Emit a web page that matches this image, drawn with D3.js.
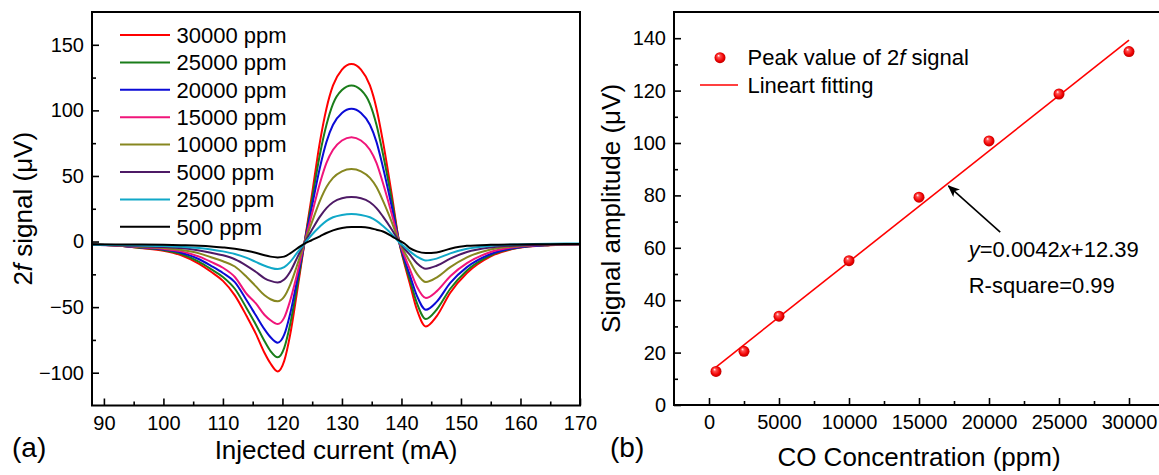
<!DOCTYPE html>
<html>
<head>
<meta charset="utf-8">
<script src="https://cdn.jsdelivr.net/npm/d3@7"></script>
<style>
  html, body { margin: 0; padding: 0; background: #fff; }
  svg { display: block; font-family: "Liberation Sans", Arial, sans-serif; }
</style>
</head>
<body>
<svg id="chart" width="1159" height="475"></svg>
<script>
// ---------------- DATA ----------------
// Panel (a): 2f signal vs injected current
const currentX = [88, 92, 96, 100, 103, 106, 108, 110, 112, 114, 115.5, 117, 118, 119.2, 120.3, 121.3, 122.4, 123.7,
  124.9, 126.3, 127.4, 128.5, 130, 131.6, 133.2, 134.7, 135.8, 136.9, 138.4,
  139.6, 140.5, 141.4, 142.6, 144.1, 145.9, 148.2, 151, 155, 159.5, 165, 170];
const seriesNames = ["30000 ppm", "25000 ppm", "20000 ppm", "15000 ppm", "10000 ppm", "5000 ppm", "2500 ppm", "500 ppm"];
const seriesColors = ["#ff0000", "#1a7d1a", "#0b0bd6", "#f0157a", "#878720", "#4e1a66", "#10a8c8", "#000000"];
const sig30000 = [-2.5, -3, -5, -7, -10.5, -17, -23, -30, -41, -57, -70, -85, -93, -99, -91, -71, -40, -1,
  34, 76, 101.5, 119, 131, 135.3, 131, 119, 101.5, 76, 35,
  0, -17, -32, -52, -64.7, -57, -39, -24, -11.3, -5, -2.8, -2];
const sig25000 = [-2.5, -3, -4.7, -6.5, -9.5, -15.5, -21, -27, -36, -51, -63, -76, -83.5, -88.3, -81, -63, -36, -1,
  30, 66.5, 89, 105, 115.5, 119, 115.5, 105, 89, 66.5, 31,
  0, -15.5, -29, -47, -59.1, -52, -36, -22, -10.5, -4.8, -2.7, -2];
const sig20000 = [-2.5, -3, -4.4, -6, -8.5, -13.5, -18.5, -24, -31, -45, -56, -67, -73, -77.1, -71, -55, -31, -1,
  25.5, 56.5, 76, 89, 98, 101.2, 98, 89, 76, 56.5, 26,
  0, -13.5, -25.5, -41.5, -52, -46, -31.5, -19.5, -9.5, -4.5, -2.6, -2];
const sig15000 = [-2.5, -3, -4.2, -5.5, -7.5, -11.5, -15.5, -20, -27, -40, -47, -56, -60, -62.9, -58, -45, -26, -1,
  20, 44.5, 60, 70, 77, 79.6, 77, 70, 60, 44.5, 20.5,
  0, -11, -21, -34.5, -43.1, -38, -26.5, -16.5, -8, -4, -2.5, -2];
const sig10000 = [-2.5, -2.9, -3.9, -5, -6.5, -9, -12, -15, -19, -27, -34, -41, -44, -45.6, -42, -33, -19, -1,
  14, 31, 41.5, 48.5, 53.5, 55.3, 53.5, 48.5, 41.5, 31, 14.5,
  0, -8, -15, -24.5, -30.9, -27.5, -19.5, -12, -6, -3.5, -2.3, -2];
const sig5000 = [-2.5, -2.8, -3.5, -4.2, -5, -6.8, -8.5, -10.5, -13.5, -18.5, -23, -28, -30, -31.2, -29, -23, -13, -1,
  8.5, 19, 25.5, 30, 33, 33.9, 33, 30, 25.5, 19, 9,
  0, -5.5, -10, -16.5, -20.7, -18.5, -13, -8, -4.5, -3, -2.2, -2];
const sig2500 = [-2.4, -2.6, -3, -3.4, -4, -5, -6, -7.5, -9.5, -12.5, -15.5, -18.5, -20, -21, -19.5, -15.5, -9, -1.5,
  5, 11.5, 15.8, 18.5, 20.3, 21, 20.3, 18.5, 15.8, 11.8, 5.5,
  -0.5, -4, -7.5, -11.5, -14.4, -13, -9, -5.5, -3.3, -2.2, -1.6, -1.5];
const sig500 = [-2, -2.2, -2.3, -2.5, -2.8, -3.2, -3.7, -4.5, -5.5, -7, -8.5, -10.5, -11.5, -12.1, -11.5, -9, -5.5, -1.5,
  1, 4, 6.5, 8.5, 10.3, 11, 11, 10.3, 9, 7.7, 4,
  0.8, -1.5, -5, -7.5, -8.8, -8.3, -5.5, -3.3, -2.5, -2.2, -2, -1.8];
const seriesValues = [sig30000, sig25000, sig20000, sig15000, sig10000, sig5000, sig2500, sig500];
const xTicksA = [90, 100, 110, 120, 130, 140, 150, 160, 170];
const yTicksA = [-100, -50, 0, 50, 100, 150];

// Panel (b): peak amplitude vs CO concentration
const concentration = [500, 2500, 5000, 10000, 15000, 20000, 25000, 30000];
const peakAmplitude = [12.8, 20.5, 33.9, 55.1, 79.3, 100.8, 118.7, 134.9];
const fitX = [500, 30000];
const fitY = [14.5, 139.3];
const xTicksB = [0, 5000, 10000, 15000, 20000, 25000, 30000];
const yTicksB = [0, 20, 40, 60, 80, 100, 120, 140];
const arrowFrom = [20800, 66];
const arrowTo = [17100, 83.6];
const eqPos = [18550, 56.5];
const r2Pos = [18550, 42.8];

// ---------------- DRAW ----------------
const svg = d3.select("#chart");
const defs = svg.append("defs");
const grad = defs.append("radialGradient").attr("id", "ball").attr("cx", "50%").attr("cy", "50%").attr("r", "55%").attr("fx", "35%").attr("fy", "30%");
grad.append("stop").attr("offset", "0%").attr("stop-color", "#ffffff");
grad.append("stop").attr("offset", "25%").attr("stop-color", "#ff5050");
grad.append("stop").attr("offset", "70%").attr("stop-color", "#ee0000");
grad.append("stop").attr("offset", "100%").attr("stop-color", "#b00000");
defs.append("marker").attr("id", "arrowhead").attr("viewBox", "0 0 12 10").attr("refX", 11).attr("refY", 5)
  .attr("markerWidth", 12).attr("markerHeight", 10).attr("markerUnits", "userSpaceOnUse").attr("orient", "auto")
  .append("path").attr("d", "M0,0 L12,5 L0,10 L3,5 Z").attr("fill", "#000");

const TICK = 20, LEG = 22, TITLE = 26, LABEL = 28;

function styleAxis(g) {
  g.select(".domain").remove();
  g.selectAll(".tick line").attr("stroke", "#000").attr("stroke-width", 1.6);
  g.selectAll(".tick text").attr("font-size", TICK).attr("fill", "#000").attr("font-family", "Liberation Sans, Arial, sans-serif");
}

// ---- Panel A ----
const A = { left: 92, right: 580, top: 12, bottom: 405.5 };
const xA = d3.scaleLinear().domain([88, 170]).range([A.left, A.right]);
const yA = d3.scaleLinear().domain([-125, 175]).range([A.bottom, A.top]);

defs.append("clipPath").attr("id", "clipA").append("rect")
  .attr("x", A.left).attr("y", A.top).attr("width", A.right - A.left).attr("height", A.bottom - A.top);

const gA = svg.append("g");
gA.append("g").attr("transform", `translate(0,${A.bottom})`)
  .call(d3.axisBottom(xA).tickValues(xTicksA).tickSize(-7).tickPadding(10).tickFormat(d3.format("d"))).call(styleAxis);
gA.append("g").attr("transform", `translate(0,${A.bottom})`)
  .call(d3.axisBottom(xA).tickValues(d3.range(95, 170, 10)).tickSize(-4).tickFormat("")).call(styleAxis);
gA.append("g").attr("transform", `translate(${A.left},0)`)
  .call(d3.axisLeft(yA).tickValues(yTicksA).tickSize(-7).tickPadding(8).tickFormat(d3.format("d"))).call(styleAxis);
gA.append("g").attr("transform", `translate(${A.left},0)`)
  .call(d3.axisLeft(yA).tickValues([-75, -25, 25, 75, 125]).tickSize(-4).tickFormat("")).call(styleAxis);

const lineA = d3.line().x((d, i) => xA(currentX[i])).y(d => yA(d)).curve(d3.curveMonotoneX);
const curves = gA.append("g").attr("clip-path", "url(#clipA)");
seriesValues.forEach((vals, k) => {
  curves.append("path").attr("d", lineA(vals)).attr("fill", "none")
    .attr("stroke", seriesColors[k]).attr("stroke-width", 2);
});

gA.append("rect").attr("x", A.left).attr("y", A.top).attr("width", A.right - A.left).attr("height", A.bottom - A.top)
  .attr("fill", "none").attr("stroke", "#000").attr("stroke-width", 2);

// legend A
const legA = gA.append("g");
seriesNames.forEach((name, k) => {
  const cy = 35 + k * 27.4;
  legA.append("line").attr("x1", 120).attr("x2", 170).attr("y1", cy).attr("y2", cy)
    .attr("stroke", seriesColors[k]).attr("stroke-width", 2);
  legA.append("text").attr("x", 176.5).attr("y", cy).attr("dy", "0.35em").attr("font-size", LEG).text(name);
});

// titles A
gA.append("text").attr("x", (A.left + A.right) / 2).attr("y", 459).attr("text-anchor", "middle")
  .attr("font-size", TITLE).text("Injected current (mA)");
const tA = gA.append("text").attr("transform", `translate(32,${(A.top + A.bottom) / 2}) rotate(-90)`)
  .attr("text-anchor", "middle").attr("font-size", TITLE);
tA.append("tspan").text("2");
tA.append("tspan").attr("font-style", "italic").text("f");
tA.append("tspan").text(" signal (μV)");
gA.append("text").attr("x", 12).attr("y", 457).attr("font-size", LABEL).text("(a)");

// ---- Panel B ----
const B = { left: 674, top: 12, bottom: 405 };
const xB = d3.scaleLinear().domain([-2500, 32500]).range([674, 1164]);
const yB = d3.scaleLinear().domain([0, 150]).range([B.bottom, B.top]);
const gB = svg.append("g");
gB.append("g").attr("transform", `translate(0,${B.bottom})`)
  .call(d3.axisBottom(xB).tickValues(xTicksB).tickSize(-7).tickPadding(10).tickFormat(d3.format("d"))).call(styleAxis);
gB.append("g").attr("transform", `translate(0,${B.bottom})`)
  .call(d3.axisBottom(xB).tickValues(d3.range(2500, 30000, 5000)).tickSize(-4).tickFormat("")).call(styleAxis);
gB.append("g").attr("transform", `translate(${B.left},0)`)
  .call(d3.axisLeft(yB).tickValues(yTicksB).tickSize(-7).tickPadding(8).tickFormat(d3.format("d"))).call(styleAxis);
gB.append("g").attr("transform", `translate(${B.left},0)`)
  .call(d3.axisLeft(yB).tickValues(d3.range(10, 150, 20)).tickSize(-4).tickFormat("")).call(styleAxis);

gB.append("rect").attr("x", xB(-2500)).attr("y", B.top).attr("width", xB(32500) - xB(-2500)).attr("height", B.bottom - B.top)
  .attr("fill", "none").attr("stroke", "#000").attr("stroke-width", 2);

const lineB = d3.line().x((d, i) => xB(fitX[i])).y(d => yB(d));
gB.append("path").attr("d", lineB(fitY)).attr("fill", "none").attr("stroke", "#ff0000").attr("stroke-width", 1.6);

gB.selectAll("circle.pt").data(peakAmplitude).join("circle").attr("class", "pt")
  .attr("cx", (d, i) => xB(concentration[i])).attr("cy", d => yB(d)).attr("r", 5.5).attr("fill", "url(#ball)");

// arrow + annotation
gB.append("line").attr("x1", xB(arrowFrom[0])).attr("y1", yB(arrowFrom[1]))
  .attr("x2", xB(arrowTo[0])).attr("y2", yB(arrowTo[1]))
  .attr("stroke", "#000").attr("stroke-width", 1.6).attr("marker-end", "url(#arrowhead)");
const eq = gB.append("text").attr("x", xB(eqPos[0])).attr("y", yB(eqPos[1])).attr("font-size", LEG);
eq.append("tspan").attr("font-style", "italic").text("y");
eq.append("tspan").text("=0.0042");
eq.append("tspan").attr("font-style", "italic").text("x");
eq.append("tspan").text("+12.39");
gB.append("text").attr("x", xB(r2Pos[0])).attr("y", yB(r2Pos[1])).attr("font-size", LEG).text("R-square=0.99");

// legend B
gB.append("circle").attr("cx", 720).attr("cy", 57.7).attr("r", 5.5).attr("fill", "url(#ball)");
const lb1 = gB.append("text").attr("x", 747.5).attr("y", 57.7).attr("dy", "0.35em").attr("font-size", LEG);
lb1.append("tspan").text("Peak value of 2");
lb1.append("tspan").attr("font-style", "italic").text("f");
lb1.append("tspan").text(" signal");
gB.append("line").attr("x1", 700).attr("x2", 738).attr("y1", 85).attr("y2", 85).attr("stroke", "#ff0000").attr("stroke-width", 1.6);
gB.append("text").attr("x", 747.5).attr("y", 85).attr("dy", "0.35em").attr("font-size", LEG).text("Lineart fitting");

// titles B
gB.append("text").attr("x", (xB(-2500) + xB(32500)) / 2).attr("y", 466).attr("text-anchor", "middle")
  .attr("font-size", TITLE).text("CO Concentration (ppm)");
gB.append("text").attr("transform", `translate(620,${(B.top + B.bottom) / 2}) rotate(-90)`)
  .attr("text-anchor", "middle").attr("font-size", TITLE).text("Signal amplitude (μV)");
gB.append("text").attr("x", 610).attr("y", 457).attr("font-size", LABEL).text("(b)");
</script>
</body>
</html>
